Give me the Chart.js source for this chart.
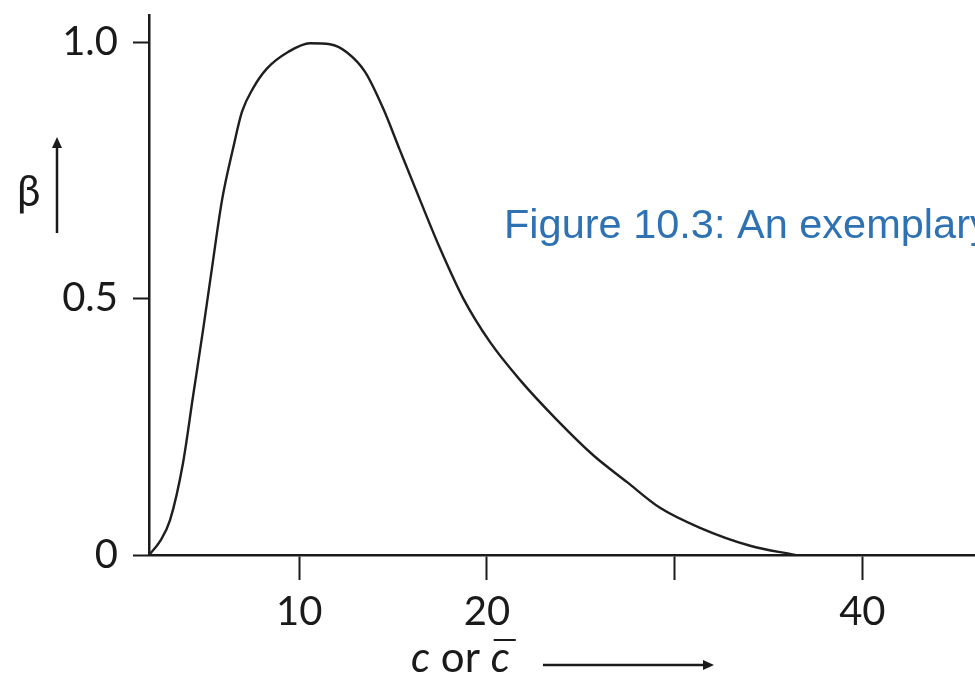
<!DOCTYPE html>
<html>
<head>
<meta charset="utf-8">
<script src="https://cdn.jsdelivr.net/npm/chart.js@4/dist/chart.umd.min.js"></script>
<style>
  html, body { margin: 0; padding: 0; background: #fff; }
  #wrap { width: 975px; height: 678px; position: relative; }
</style>
</head>
<body>
<div id="wrap"><canvas id="ocChart"></canvas></div>
<script>
// curve: c (x) against beta (y)
const cValues    = [2.0, 2.59, 3.12, 3.81, 4.34, 4.88, 5.36, 5.89, 6.48, 6.95, 7.54, 8.29, 9.41, 10.58, 11.64, 12.55, 13.51, 14.47, 15.37, 16.44, 17.5, 18.73, 20.17, 21.77, 23.74, 25.65, 27.47, 29.22, 31.35, 34.02, 36.42];
const betaValues = [0.0, 0.027, 0.068, 0.179, 0.308, 0.439, 0.561, 0.692, 0.793, 0.864, 0.91, 0.949, 0.981, 0.998, 0.996, 0.98, 0.942, 0.871, 0.789, 0.692, 0.598, 0.501, 0.415, 0.341, 0.263, 0.195, 0.142, 0.092, 0.053, 0.018, 0.0];

const xTicks      = [10, 20, 30, 40];
const xTickLabels = ['10', '20', '', '40'];
const yTicks      = [0, 0.5, 1.0];
const yTickLabels = ['0', '0.5', '1.0'];

const captionText = 'Figure 10.3: An exemplary';

const points = cValues.map((c, i) => ({ x: c, y: betaValues[i] }));

function arrow(ctx, x1, y1, x2, y2) {
  const ang = Math.atan2(y2 - y1, x2 - x1);
  const head = 11;
  ctx.beginPath();
  ctx.moveTo(x1, y1);
  ctx.lineTo(x2 - head * 0.6 * Math.cos(ang), y2 - head * 0.6 * Math.sin(ang));
  ctx.stroke();
  ctx.beginPath();
  ctx.moveTo(x2, y2);
  ctx.lineTo(x2 - head * Math.cos(ang) + 5 * Math.sin(ang), y2 - head * Math.sin(ang) - 5 * Math.cos(ang));
  ctx.lineTo(x2 - head * Math.cos(ang) - 5 * Math.sin(ang), y2 - head * Math.sin(ang) + 5 * Math.cos(ang));
  ctx.closePath();
  ctx.fill();
}

// labels and arrows drawn beside the axes
const annotations = {
  id: 'annotations',
  afterDraw(chart) {
    const ctx = chart.ctx;
    ctx.save();
    ctx.fillStyle = '#1a1a1a';
    ctx.strokeStyle = '#1a1a1a';
    ctx.lineWidth = 2.5;

    // beta with up arrow
    ctx.font = '42px Lato';
    ctx.textBaseline = 'alphabetic';
    ctx.textAlign = 'left';
    ctx.fillText('β', 17, 206);
    arrow(ctx, 57, 233, 57, 137);

    // x title: c or c-bar
    let x = 411;
    const base = 672;
    ctx.font = 'italic 42px Lato';
    ctx.fillText('c', x, base);
    x += ctx.measureText('c').width;
    ctx.font = '42px Lato';
    ctx.fillText(' or ', x, base);
    x += ctx.measureText(' or ').width;
    ctx.font = 'italic 42px Lato';
    const cw = ctx.measureText('c').width;
    ctx.fillText('c', x, base);
    ctx.lineWidth = 2;
    ctx.beginPath();
    ctx.moveTo(x + 3, 640);
    ctx.lineTo(x + cw + 6, 640);
    ctx.stroke();
    ctx.lineWidth = 2.5;
    arrow(ctx, 543, 665, 714, 665);

    // caption text
    ctx.font = '41.5px "Liberation Sans"';
    ctx.fillStyle = '#2e72b4';
    ctx.fillText(captionText, 504, 238);
    ctx.restore();
  }
};

new Chart(document.getElementById('ocChart'), {
  type: 'line',
  data: {
    datasets: [{
      data: points,
      borderColor: '#1e1e1e',
      borderWidth: 2.4,
      pointRadius: 0,
      fill: false,
      cubicInterpolationMode: 'monotone'
    }]
  },
  options: {
    responsive: true,
    maintainAspectRatio: false,
    animation: false,
    layout: { padding: { top: 15, right: 0, bottom: 0, left: 0 } },
    plugins: { legend: { display: false }, tooltip: { enabled: false } },
    scales: {
      x: {
        type: 'linear',
        min: 2,
        max: 46,
        afterBuildTicks: (s) => { s.ticks = xTicks.map(v => ({ value: v })); },
        afterFit: (s) => { s.height = 123; s.paddingRight = 0; s.paddingLeft = 0; },
        border: { display: true, color: '#1a1a1a', width: 2.5 },
        grid: { drawOnChartArea: false, drawTicks: true, tickLength: 25, tickWidth: 2, color: '#1a1a1a' },
        ticks: {
          padding: 8,
          color: '#1a1a1a',
          font: { family: 'Lato', size: 40 },
          maxRotation: 0,
          autoSkip: false,
          callback: (v) => xTickLabels[xTicks.indexOf(v)]
        }
      },
      y: {
        type: 'linear',
        min: 0,
        max: 1.053,
        afterBuildTicks: (s) => { s.ticks = yTicks.map(v => ({ value: v })); },
        afterFit: (s) => { s.width = 149; s.paddingTop = 0; s.paddingBottom = 0; },
        border: { display: true, color: '#1a1a1a', width: 2.5 },
        grid: { drawOnChartArea: false, drawTicks: true, tickLength: 16, tickWidth: 2, color: '#1a1a1a' },
        ticks: {
          padding: 15,
          color: '#1a1a1a',
          font: { family: 'Lato', size: 40 },
          autoSkip: false,
          callback: (v) => yTickLabels[yTicks.indexOf(v)]
        }
      }
    }
  },
  plugins: [annotations]
});
</script>
</body>
</html>
